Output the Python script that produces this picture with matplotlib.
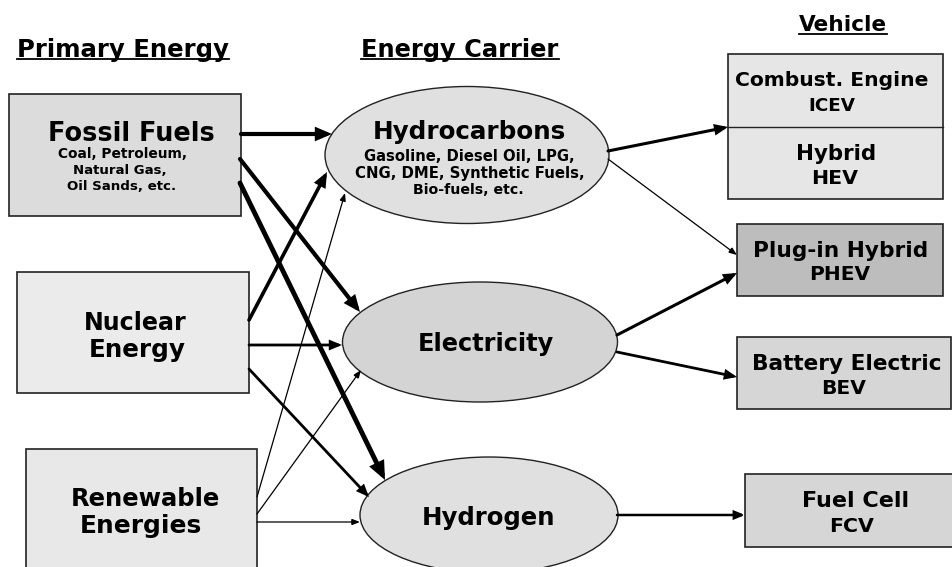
import matplotlib
matplotlib.use("Agg")
import matplotlib.pyplot as plt
from matplotlib.patches import Rectangle, Ellipse, FancyArrowPatch

plt.rcParams['font.family'] = ['DejaVu Sans']

# ---- content ----
column_titles = ["Primary Energy", "Energy Carrier", "Vehicle"]
primary_labels = [["Fossil Fuels"], ["Nuclear", "Energy"], ["Renewable", "Energies"]]
primary_sub = ["Coal, Petroleum,", "Natural Gas,", "Oil Sands, etc."]
carrier_labels = ["Hydrocarbons", "Electricity", "Hydrogen"]
carrier_sub = ["Gasoline, Diesel Oil, LPG,", "CNG, DME, Synthetic Fuels,", "Bio-fuels, etc."]
vehicle_labels = ["Combust. Engine", "Hybrid", "Plug-in Hybrid", "Battery Electric", "Fuel Cell"]
vehicle_abbr = ["ICEV", "HEV", "PHEV", "BEV", "FCV"]
# links: (source, target, strength)
links = [
    ("Fossil Fuels", "Hydrocarbons", 3.0),
    ("Fossil Fuels", "Electricity", 3.0),
    ("Fossil Fuels", "Hydrogen", 3.5),
    ("Nuclear", "Hydrocarbons", 2.6),
    ("Nuclear", "Electricity", 2.0),
    ("Nuclear", "Hydrogen", 2.0),
    ("Renewable", "Hydrocarbons", 0.9),
    ("Renewable", "Electricity", 0.9),
    ("Renewable", "Hydrogen", 0.9),
    ("Hydrocarbons", "ICEV/HEV", 2.2),
    ("Hydrocarbons", "PHEV", 0.9),
    ("Electricity", "PHEV", 2.2),
    ("Electricity", "BEV", 2.0),
    ("Hydrogen", "FCV", 1.8),
]

# ---- layout (pixel coordinates, y downward) ----
W, H = 952, 567
fig = plt.figure(figsize=(W / 100, H / 100), dpi=100)
ax = fig.add_axes([0, 0, 1, 1])
ax.set_xlim(0, W)
ax.set_ylim(H, 0)
ax.axis('off')
fig.canvas.draw()
renderer = fig.canvas.get_renderer()

def rect(x0, y0, x1, y1, fc):
    ax.add_patch(Rectangle((x0, y0), x1 - x0, y1 - y0, fc=fc, ec='#222222', lw=1.2, zorder=2))

def ell(cx, cy, w, h, fc):
    ax.add_patch(Ellipse((cx, cy), w, h, fc=fc, ec='#222222', lw=1.0, zorder=2))

def txt(x, y, s, width_px, max_size=30, underline=False):
    t = ax.text(x, y, s, fontsize=10, fontweight='bold', ha='center',
                va='center_baseline', zorder=5)
    w = t.get_window_extent(renderer).width
    t.set_fontsize(min(max_size, 10 * width_px / w))
    if underline:
        bb = t.get_window_extent(renderer).transformed(ax.transData.inverted())
        x0, x1 = min(bb.x0, bb.x1), max(bb.x0, bb.x1)
        yb = y + 0.5 * t.get_fontsize() * 100 / 72 * 0.73 + 3
        ax.plot([x0, x1], [yb, yb], color='black', lw=1.3, zorder=5)
    return t

# titles with underline
txt(123, 47, column_titles[0], 212, underline=True)
txt(460, 47, column_titles[1], 198, underline=True)
txt(843, 23, column_titles[2], 88, underline=True)

# primary boxes
rect(9, 94, 241, 216, '#dcdcdc')
rect(17, 272, 249, 393, '#ebebeb')
rect(26, 449, 257, 600, '#e8e8e8')
txt(131, 131, primary_labels[0][0], 166)
txt(122, 153, primary_sub[0], 129)
txt(120, 169, primary_sub[1], 93)
txt(122, 185, primary_sub[2], 109)
txt(135, 321, primary_labels[1][0], 103)
txt(137, 347, primary_labels[1][1], 97)
txt(145, 497, primary_labels[2][0], 150)
txt(141, 524, primary_labels[2][1], 122)

# carrier ellipses
ell(467, 155, 284, 137, '#e0e0e0')
ell(480, 342, 275, 120, '#d4d4d4')
ell(489, 515, 258, 116, '#e0e0e0')
txt(469, 129, carrier_labels[0], 194)
txt(469, 155, carrier_sub[0], 209)
txt(470, 172, carrier_sub[1], 230)
txt(468, 188, carrier_sub[2], 111)
txt(486, 341, carrier_labels[1], 136)
txt(489, 515, carrier_labels[2], 134)

# vehicle boxes
rect(728, 54, 943, 199, '#e6e6e6')
ax.plot([728, 943], [127, 127], color='#222222', lw=1.0, zorder=3)
rect(737, 224, 943, 296, '#bdbdbd')
rect(737, 337, 951, 409, '#d6d6d6')
rect(745, 474, 960, 547, '#d6d6d6')
txt(832, 79, vehicle_labels[0], 193)
txt(832, 104, vehicle_abbr[0], 47)
txt(836, 152, vehicle_labels[1], 80)
txt(835, 176, vehicle_abbr[1], 47)
txt(841, 249, vehicle_labels[2], 174)
txt(840, 273, vehicle_abbr[2], 61)
txt(847, 362, vehicle_labels[3], 190)
txt(844, 387, vehicle_abbr[3], 45)
txt(856, 499, vehicle_labels[4], 107)
txt(852, 525, vehicle_abbr[4], 45)

# arrow geometry per link (start, end)
geom = {
    ("Fossil Fuels", "Hydrocarbons"): ((241, 134), (332, 134)),
    ("Fossil Fuels", "Electricity"): ((240, 159), (360, 312)),
    ("Fossil Fuels", "Hydrogen"): ((240, 183), (385, 480)),
    ("Nuclear", "Hydrocarbons"): ((249, 320), (327, 172)),
    ("Nuclear", "Electricity"): ((249, 345), (342, 345)),
    ("Nuclear", "Hydrogen"): ((249, 369), (369, 497)),
    ("Renewable", "Hydrocarbons"): ((257, 497), (345, 193)),
    ("Renewable", "Electricity"): ((257, 514), (361, 370)),
    ("Renewable", "Hydrogen"): ((257, 522), (360, 522)),
    ("Hydrocarbons", "ICEV/HEV"): ((608, 151), (728, 127)),
    ("Hydrocarbons", "PHEV"): ((608, 159), (737, 255)),
    ("Electricity", "PHEV"): ((617, 335), (737, 273)),
    ("Electricity", "BEV"): ((617, 352), (737, 377)),
    ("Hydrogen", "FCV"): ((617, 515), (745, 515)),
}
for src, dst, w in links:
    (x0, y0), (x1, y1) = geom[(src, dst)]
    hl = 5 + 1.6 * w
    hw = 1.8 + 0.8 * w
    a = FancyArrowPatch((x0, y0), (x1, y1),
                        arrowstyle=f"-|>,head_length={hl / (100 / 72):.2f},head_width={hw / (100 / 72):.2f}",
                        mutation_scale=1, lw=w, color='black',
                        shrinkA=0, shrinkB=0, zorder=4, joinstyle='miter')
    ax.add_patch(a)

fig.savefig("out.png", dpi=100, facecolor='white')
